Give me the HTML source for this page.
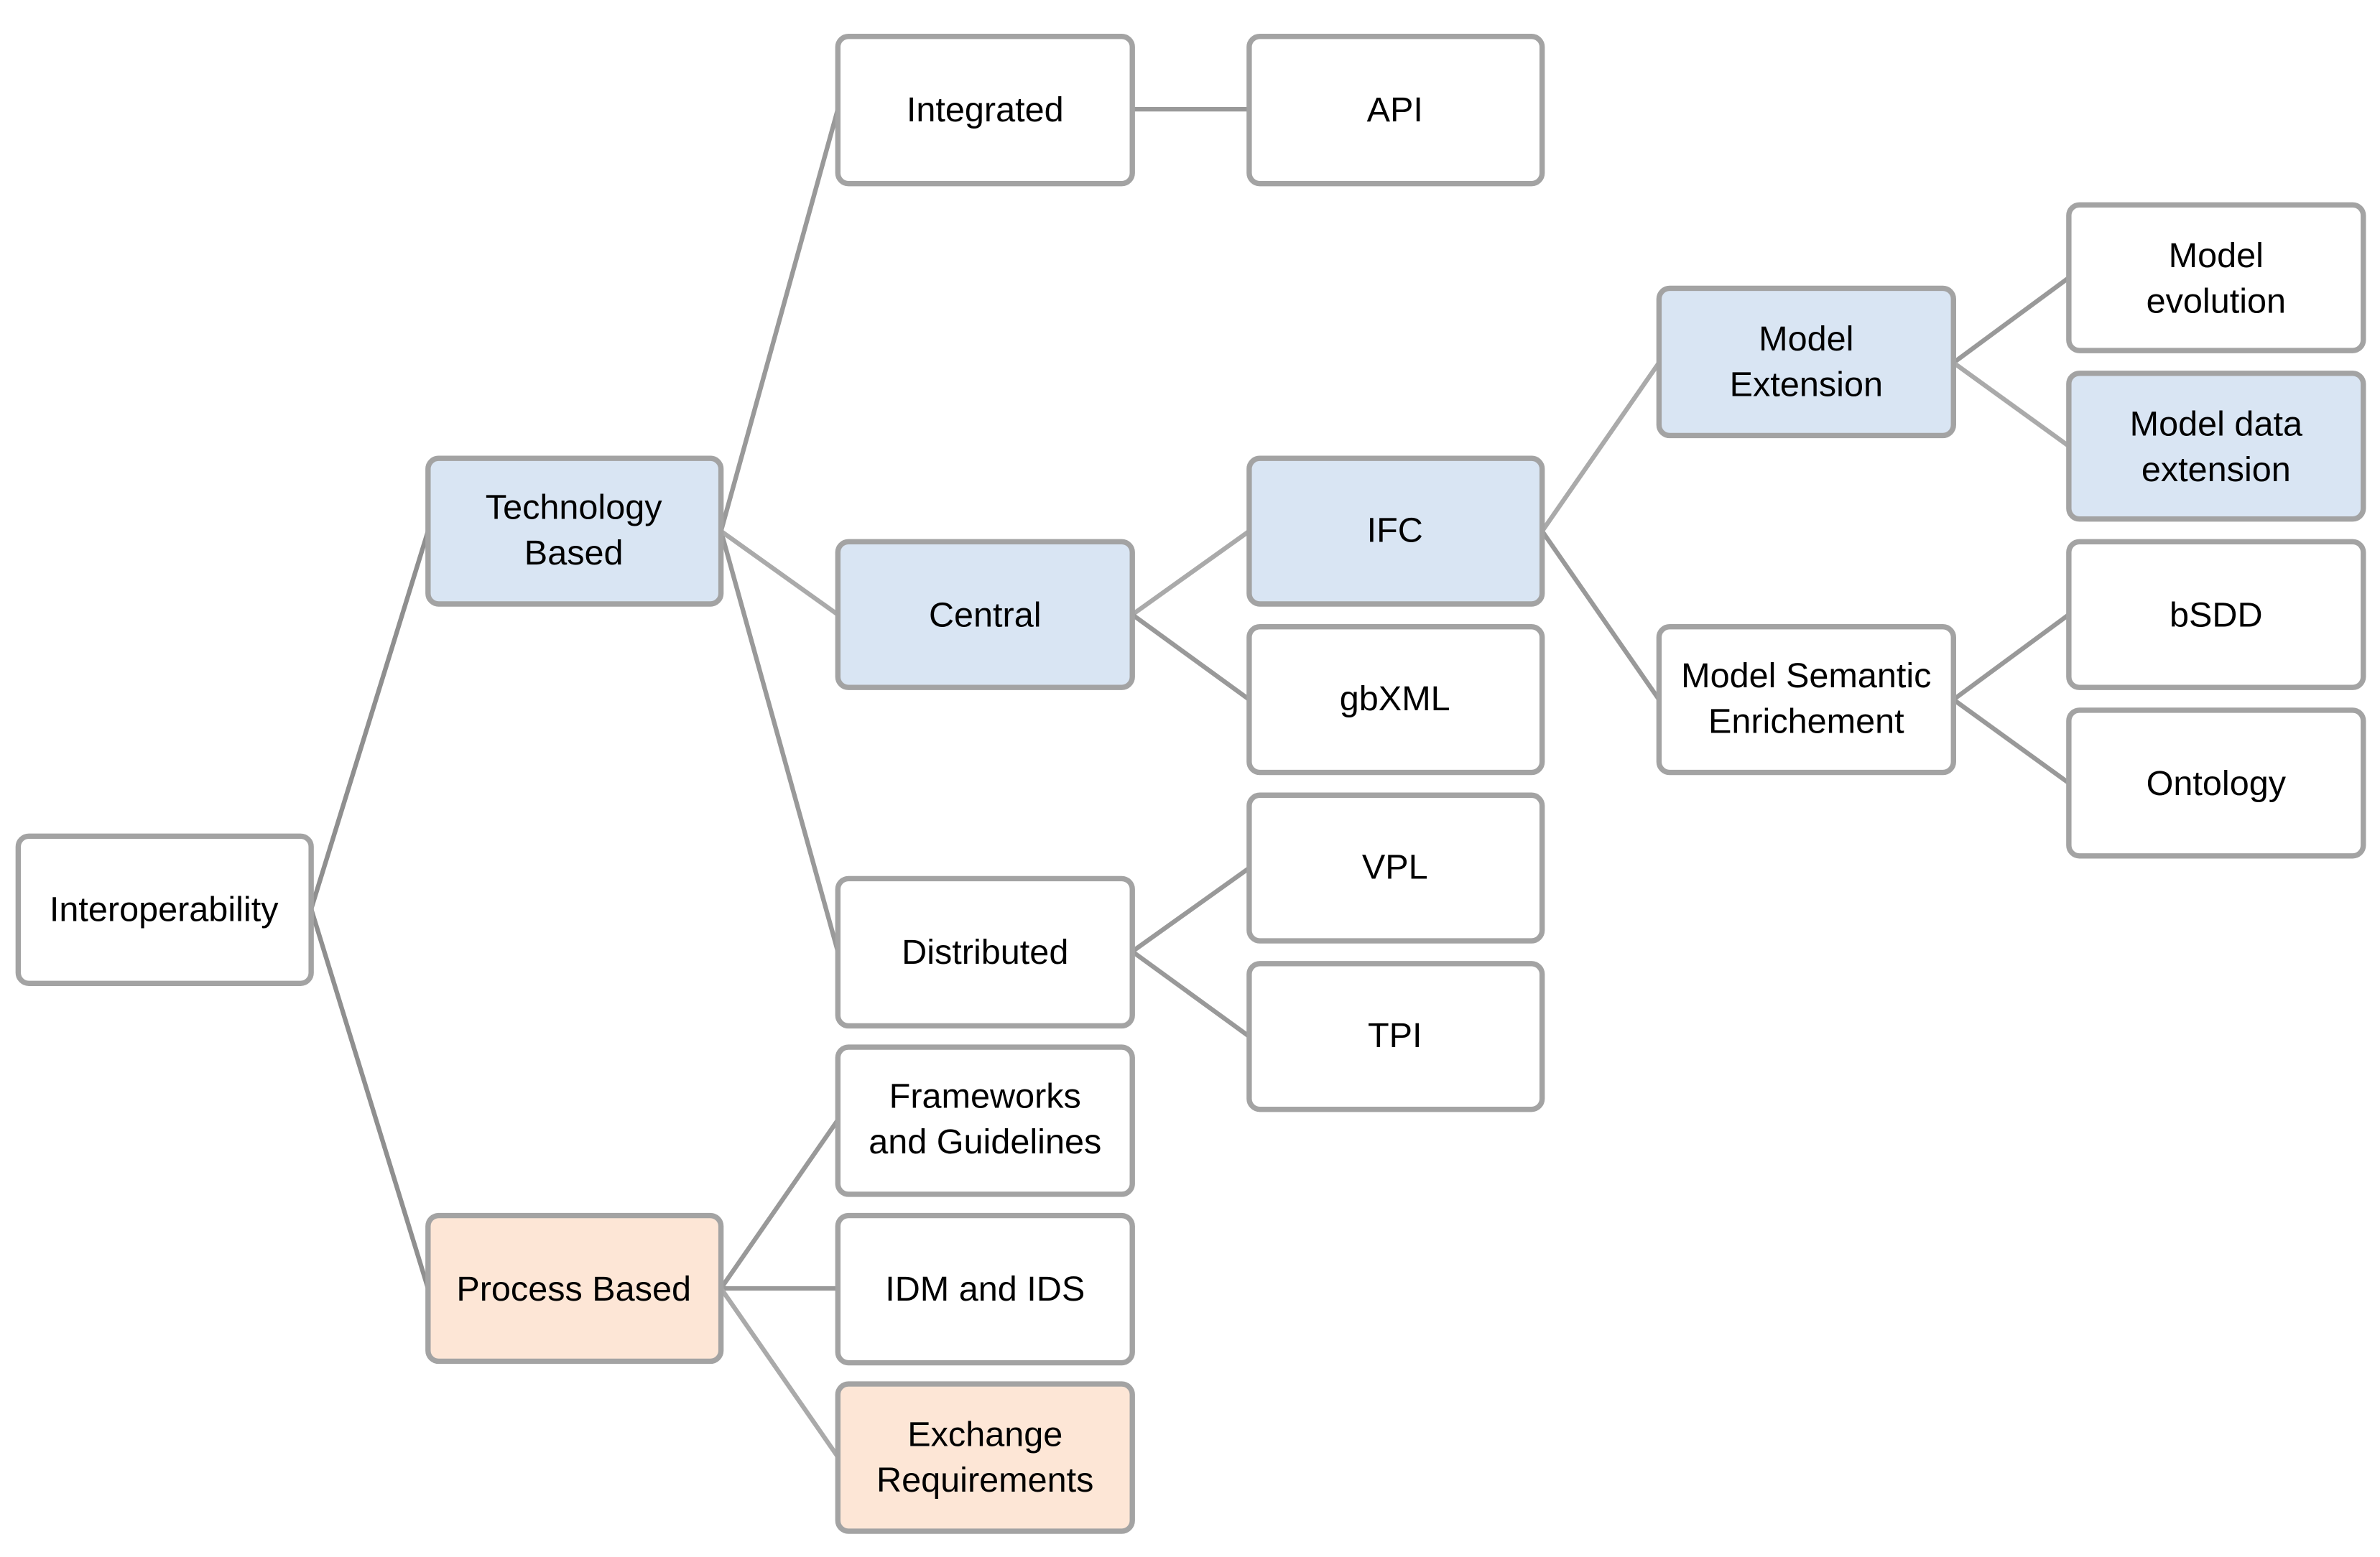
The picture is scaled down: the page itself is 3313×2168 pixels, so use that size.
<!DOCTYPE html>
<html><head><meta charset="utf-8"><style>html,body{margin:0;padding:0;background:#fff}svg{display:block}</style></head>
<body>
<svg width="3313" height="2168" viewBox="0 0 1568 1026" xmlns="http://www.w3.org/2000/svg" preserveAspectRatio="none">
<g fill="none" stroke-width="3">
<path d="M205,599 L282,350 M205,599 L282,849" stroke="#8f8f8f"/>
<path d="M475,350 L552,72 M475,350 L552,627" stroke="#999"/>
<path d="M475,350 L552,405" stroke="#aaa"/>
<path d="M475,849 L552,738 M475,849 L552,849" stroke="#999"/>
<path d="M475,849 L552,960" stroke="#aaa"/>
<path d="M746,72 L823,72" stroke="#999"/>
<path d="M746,405 L823,350" stroke="#aaa"/>
<path d="M746,405 L823,461" stroke="#999"/>
<path d="M746,627 L823,572 M746,627 L823,683" stroke="#999"/>
<path d="M1016,350 L1093,239" stroke="#aaa"/>
<path d="M1016,350 L1093,461" stroke="#999"/>
<path d="M1287,239 L1363,183" stroke="#999"/>
<path d="M1287,239 L1363,294" stroke="#aaa"/>
<path d="M1287,461 L1363,405 M1287,461 L1363,516" stroke="#999"/>
</g>
<g stroke="#a3a3a3" stroke-width="3.5">
<rect x="12" y="551" width="193" height="97" rx="7" fill="#fff"/>
<rect x="282" y="302" width="193" height="96" rx="7" fill="#d9e5f3"/>
<rect x="282" y="801" width="193" height="96" rx="7" fill="#fde6d6"/>
<rect x="552" y="24" width="194" height="97" rx="7" fill="#fff"/>
<rect x="552" y="357" width="194" height="96" rx="7" fill="#d9e5f3"/>
<rect x="552" y="579" width="194" height="97" rx="7" fill="#fff"/>
<rect x="552" y="690" width="194" height="97" rx="7" fill="#fff"/>
<rect x="552" y="801" width="194" height="97" rx="7" fill="#fff"/>
<rect x="552" y="912" width="194" height="97" rx="7" fill="#fde6d6"/>
<rect x="823" y="24" width="193" height="97" rx="7" fill="#fff"/>
<rect x="823" y="302" width="193" height="96" rx="7" fill="#d9e5f3"/>
<rect x="823" y="413" width="193" height="96" rx="7" fill="#fff"/>
<rect x="823" y="524" width="193" height="96" rx="7" fill="#fff"/>
<rect x="823" y="635" width="193" height="96" rx="7" fill="#fff"/>
<rect x="1093" y="190" width="194" height="97" rx="7" fill="#d9e5f3"/>
<rect x="1093" y="413" width="194" height="96" rx="7" fill="#fff"/>
<rect x="1363" y="135" width="194" height="96" rx="7" fill="#fff"/>
<rect x="1363" y="246" width="194" height="96" rx="7" fill="#d9e5f3"/>
<rect x="1363" y="357" width="194" height="96" rx="7" fill="#fff"/>
<rect x="1363" y="468" width="194" height="96" rx="7" fill="#fff"/>
</g>
<g font-family="'Liberation Sans', sans-serif" font-size="23" fill="#000" text-anchor="middle">
<text x="108" y="607">Interoperability</text>
<text x="378" y="342">Technology</text><text x="378" y="372">Based</text>
<text x="378" y="857">Process Based</text>
<text x="649" y="80">Integrated</text>
<text x="649" y="413">Central</text>
<text x="649" y="635">Distributed</text>
<text x="649" y="730">Frameworks</text><text x="649" y="760">and Guidelines</text>
<text x="649" y="857">IDM and IDS</text>
<text x="649" y="953">Exchange</text><text x="649" y="983">Requirements</text>
<text x="919" y="80">API</text>
<text x="919" y="357">IFC</text>
<text x="919" y="468">gbXML</text>
<text x="919" y="579">VPL</text>
<text x="919" y="690">TPI</text>
<text x="1190" y="231">Model</text><text x="1190" y="261">Extension</text>
<text x="1190" y="453">Model Semantic</text><text x="1190" y="483">Enrichement</text>
<text x="1460" y="176">Model</text><text x="1460" y="206">evolution</text>
<text x="1460" y="287">Model data</text><text x="1460" y="317">extension</text>
<text x="1460" y="413">bSDD</text>
<text x="1460" y="524">Ontology</text>
</g>
</svg>
</body></html>
